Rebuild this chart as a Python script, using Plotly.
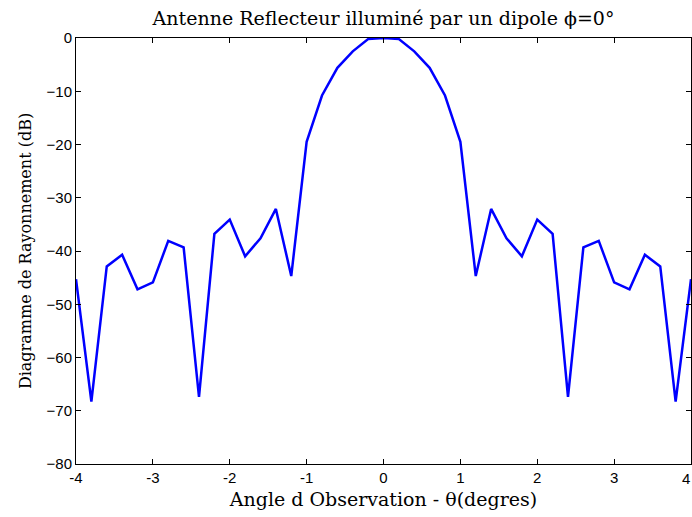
import plotly.graph_objects as go

# Observation angle (degrees) and radiation pattern (dB)
theta = [-4.0, -3.8, -3.6, -3.4, -3.2, -3.0, -2.8, -2.6, -2.4, -2.2,
         -2.0, -1.8, -1.6, -1.4, -1.2, -1.0, -0.8, -0.6, -0.4, -0.2,
         0.0,
         0.2, 0.4, 0.6, 0.8, 1.0, 1.2, 1.4, 1.6, 1.8, 2.0,
         2.2, 2.4, 2.6, 2.8, 3.0, 3.2, 3.4, 3.6, 3.8, 4.0]
gain_db = [-45.3, -68.3, -42.9, -40.7, -47.2, -45.9, -38.1, -39.3, -67.4, -36.8,
           -34.1, -41.0, -37.6, -32.1, -44.7, -19.5, -10.8, -5.6, -2.5, -0.2,
           0.0,
           -0.2, -2.5, -5.6, -10.8, -19.5, -44.7, -32.1, -37.6, -41.0, -34.1,
           -36.8, -67.4, -39.3, -38.1, -45.9, -47.2, -40.7, -42.9, -68.3, -45.3]

x_ticks = [-4, -3, -2, -1, 0, 1, 2, 3, 4]
x_tick_labels = ["-4", "-3", "-2", "-1", "0", "1", "2", "3", "4"]
y_ticks = [0, -10, -20, -30, -40, -50, -60, -70, -80]

serif = "DejaVu Serif"
sans = "Liberation Sans"
tick_font = dict(family=sans, size=15, color="black")

fig = go.Figure(
    go.Scatter(
        x=theta, y=gain_db, mode="lines",
        line=dict(color="#0000ff", width=2.5),
        hoverinfo="skip",
    )
)

axis_common = dict(
    showgrid=False, zeroline=False,
    showline=True, linecolor="black", linewidth=1, mirror="ticks",
    ticks="inside", ticklen=5, tickcolor="black", tickwidth=1,
    tickfont=tick_font,
    automargin=False,
)

# the last x label sits at the right page edge: draw it right-aligned so it stays whole
fig.add_annotation(
    x=x_ticks[-1], y=0, xref="x", yref="paper",
    text=x_tick_labels[-1], showarrow=False,
    xanchor="right", yanchor="top", yshift=-4, xshift=1,
    font=tick_font,
)

fig.update_layout(
    width=692, height=517,
    margin=dict(l=76, r=1, t=38, b=53, autoexpand=False),
    paper_bgcolor="white", plot_bgcolor="white",
    showlegend=False,
    title=dict(
        text="Antenne Reflecteur illuminé par un dipole ϕ=0°",
        x=0.5, xref="paper", xanchor="center",
        y=1 - 18 / 517, yref="container", yanchor="middle",
        font=dict(family=serif, size=19, color="black"),
    ),
    xaxis=dict(
        range=[-4, 4], tickvals=x_ticks,
        ticktext=x_tick_labels[:-1] + [""],
        title=dict(text="Angle d Observation - θ(degres)", standoff=7,
                   font=dict(family=serif, size=19, color="black")),
        **axis_common,
    ),
    yaxis=dict(
        range=[-80, 0], tickvals=y_ticks,
        title=dict(text="Diagramme de Rayonnement (dB)", standoff=10,
                   font=dict(family=serif, size=16, color="black")),
        **axis_common,
    ),
)

fig.write_html("out.html")
